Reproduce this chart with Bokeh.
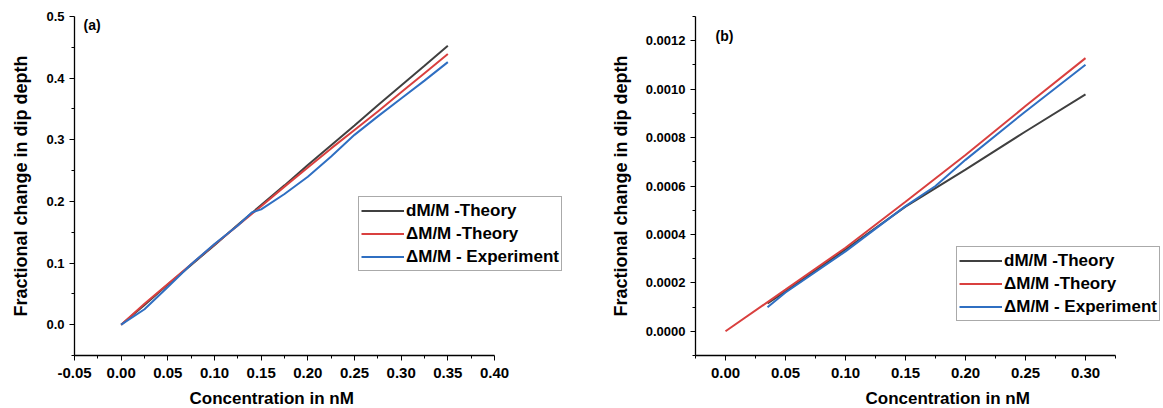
from bokeh.plotting import figure
from bokeh.layouts import row
from bokeh.models import Legend, LegendItem, Label, Range1d, FixedTicker, CustomJSTickFormatter, Title
from bokeh.embed import file_html
from bokeh.resources import INLINE

# ---- Panel (a) data ----
a_x_theory = [0, 0.025, 0.05, 0.075, 0.1, 0.125, 0.15, 0.175, 0.2, 0.225, 0.25, 0.275, 0.3, 0.325, 0.35]
a_dM_theory = [0, 0.032, 0.065, 0.097, 0.129, 0.162, 0.194, 0.226, 0.259, 0.291, 0.323, 0.356, 0.388, 0.420, 0.4525]
a_DM_theory = [0, 0.034, 0.066, 0.098, 0.130, 0.161, 0.192, 0.224, 0.255, 0.286, 0.316, 0.346, 0.377, 0.408, 0.439]
a_x_exp = [0, 0.025, 0.05, 0.075, 0.1, 0.125, 0.14, 0.15, 0.175, 0.2, 0.225, 0.25, 0.275, 0.3, 0.325, 0.35]
a_DM_exp = [0, 0.025, 0.061, 0.098, 0.131, 0.161, 0.182, 0.187, 0.212, 0.240, 0.273, 0.308, 0.338, 0.367, 0.396, 0.426]

# ---- Panel (b) data ----
b_x_dM = [0.035, 0.05, 0.1, 0.15, 0.2, 0.25, 0.3]
b_dM_theory = [0.000115, 0.000165, 0.000338, 0.000515, 0.000668, 0.000825, 0.000978]
b_x_DM = [0, 0.05, 0.1, 0.15, 0.2, 0.25, 0.3]
b_DM_theory = [0, 0.000172, 0.000345, 0.000535, 0.000728, 0.000930, 0.001128]
b_x_exp = [0.035, 0.05, 0.1, 0.15, 0.175, 0.2, 0.25, 0.3]
b_DM_exp = [0.000099, 0.000160, 0.000330, 0.000517, 0.000600, 0.000708, 0.000908, 0.001101]

a_xticks = [-0.05, 0, 0.05, 0.1, 0.15, 0.2, 0.25, 0.3, 0.35, 0.4]
a_yticks = [0, 0.1, 0.2, 0.3, 0.4, 0.5]
b_xticks = [0, 0.05, 0.1, 0.15, 0.2, 0.25, 0.3]
b_yticks = [0, 0.0002, 0.0004, 0.0006, 0.0008, 0.0010, 0.0012]

labels = ["dM/M -Theory", "\u0394M/M -Theory", "\u0394M/M - Experiment"]
colors = ["#404040", "#d9403f", "#2f6fc2"]
FONT = "Liberation Sans"
XTITLE = "Concentration in nM"
YTITLE = "Fractional change in dip depth"


def style(p, xticks, yticks, xminor, yminor, xfmt, yfmt, xbounds, xtitle_offset):
    p.xaxis.ticker = FixedTicker(ticks=xticks, minor_ticks=xminor)
    p.yaxis.ticker = FixedTicker(ticks=yticks, minor_ticks=yminor)
    p.xaxis.formatter = CustomJSTickFormatter(code="return tick.toFixed(%d);" % xfmt)
    p.yaxis.formatter = CustomJSTickFormatter(code="return tick.toFixed(%d);" % yfmt)
    p.xaxis.bounds = xbounds
    p.xgrid.visible = False
    p.ygrid.visible = False
    p.outline_line_color = None
    for ax in (p.xaxis[0], p.yaxis[0]):
        ax.axis_line_color = "black"
        ax.axis_line_width = 1.3
        ax.major_tick_line_color = "black"
        ax.minor_tick_line_color = "black"
        ax.major_tick_in = 0
        ax.major_tick_out = 5
        ax.minor_tick_in = 0
        ax.minor_tick_out = 3
        ax.major_label_text_font = FONT
        ax.major_label_text_font_style = "bold"
        ax.major_label_text_color = "black"
        ax.axis_label_text_font = FONT
        ax.axis_label_text_font_style = "bold"
        ax.axis_label_text_color = "black"
    p.xaxis.major_label_text_font_size = "15px"
    p.yaxis.major_label_text_font_size = "13px"
    p.yaxis.axis_label_text_font_size = "18px"
    p.xaxis.major_label_standoff = 7
    p.yaxis.major_label_standoff = 5
    p.yaxis.axis_label_standoff = 12
    p.yaxis.axis_label = YTITLE
    # x title placed as a below-panel title so it centres on the axis span
    p.add_layout(Title(text=XTITLE, align="left", offset=xtitle_offset, standoff=16,
                       vertical_align="top",
                       text_font=FONT, text_font_style="bold", text_font_size="17px",
                       text_color="black"), "below")


def make_legend(p, renderers, loc):
    items = [LegendItem(label=l, renderers=[r]) for l, r in zip(labels, renderers)]
    lg = Legend(items=items, location=loc, orientation="vertical")
    lg.label_text_font = FONT
    lg.label_text_font_style = "bold"
    lg.label_text_font_size = "17px"
    lg.label_text_color = "black"
    lg.label_height = 23
    lg.glyph_height = 23
    lg.glyph_width = 43
    lg.label_standoff = 2
    lg.spacing = 0
    lg.padding = 2
    lg.margin = 0
    lg.border_line_color = "#555555"
    lg.border_line_width = 1
    lg.background_fill_color = "white"
    lg.background_fill_alpha = 1
    p.add_layout(lg)


# ---- Panel (a) ----  (frame extends right so the legend can overhang the axis end)
pa = figure(width=600, height=408, frame_width=491, frame_height=339,
            min_border_left=74, min_border_right=35, min_border_top=16, min_border_bottom=53,
            output_backend="svg", toolbar_location=None,
            x_range=Range1d(-0.05, -0.05 + 491 / 933.33), y_range=Range1d(-0.05, 0.50))
style(pa, a_xticks, a_yticks,
      [-0.025, 0.025, 0.075, 0.125, 0.175, 0.225, 0.275, 0.325, 0.375],
      [-0.05, 0.05, 0.15, 0.25, 0.35, 0.45], 2, 1, (-0.05, 0.40), 115)
ra1 = pa.line(a_x_theory, a_dM_theory, line_color=colors[0], line_width=2)
ra2 = pa.line(a_x_theory, a_DM_theory, line_color=colors[1], line_width=2)
ra3 = pa.line(a_x_exp, a_DM_exp, line_color=colors[2], line_width=2)
make_legend(pa, [ra1, ra2, ra3], (284, 84))
pa.add_layout(Label(x=9, y=339 - 8, x_units="screen", y_units="screen", text="(a)",
                    text_font=FONT, text_font_style="bold", text_font_size="14px",
                    text_color="black", text_baseline="middle"))

# ---- Panel (b) ----
pb = figure(width=563, height=408, frame_width=467, frame_height=339,
            min_border_left=95, min_border_right=1, min_border_top=16, min_border_bottom=53,
            output_backend="svg", toolbar_location=None,
            x_range=Range1d(-0.025, -0.025 + 467 / 1200), y_range=Range1d(-0.0001, 0.0013))
style(pb, b_xticks, b_yticks,
      [-0.025, 0.025, 0.075, 0.125, 0.175, 0.225, 0.275, 0.325],
      [-0.0001, 0.0001, 0.0003, 0.0005, 0.0007, 0.0009, 0.0011, 0.0013], 2, 4, (-0.025, 0.325), 170)
rb1 = pb.line(b_x_dM, b_dM_theory, line_color=colors[0], line_width=2)
rb2 = pb.line(b_x_DM, b_DM_theory, line_color=colors[1], line_width=2)
rb3 = pb.line(b_x_exp, b_DM_exp, line_color=colors[2], line_width=2)
make_legend(pb, [rb1, rb2, rb3], (261, 34))
pb.add_layout(Label(x=20, y=339 - 19, x_units="screen", y_units="screen", text="(b)",
                    text_font=FONT, text_font_style="bold", text_font_size="14px",
                    text_color="black", text_baseline="middle"))

layout = row(pa, pb, spacing=0)
open("out.html", "w").write(file_html(layout, INLINE))
